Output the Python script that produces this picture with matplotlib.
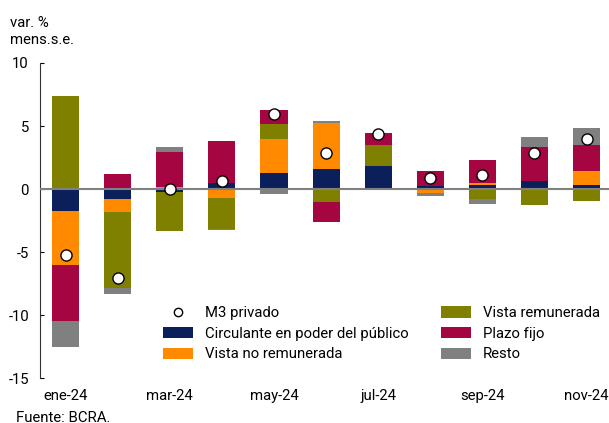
import numpy as np
import matplotlib
matplotlib.use('Agg')
import matplotlib.pyplot as plt
import matplotlib.patches as patches
import matplotlib.lines as lines

plt.rcParams['font.family'] = ['Roboto', 'DejaVu Sans']

months = ['ene-24', 'feb-24', 'mar-24', 'abr-24', 'may-24', 'jun-24',
          'jul-24', 'ago-24', 'sep-24', 'oct-24', 'nov-24']

circulante = [-1.75, -0.80, -0.20, 0.48, 1.27, 1.59, 1.83, 0.24, 0.32, 0.63, 0.32]
vista_no_rem = [-4.30, -1.03, 0.15, -0.73, 2.70, 3.65, 0.00, -0.30, 0.16, -0.05, 1.11]
vista_rem = [7.40, -6.03, -3.10, -2.45, 1.19, -1.03, 1.66, -0.05, -0.79, -1.22, -0.95]
plazo_fijo = [-4.45, 1.19, 2.80, 3.33, 1.11, -1.56, 0.95, 1.19, 1.82, 2.70, 2.06]
resto = [-2.00, -0.45, 0.35, -0.10, -0.37, 0.16, -0.08, -0.20, -0.40, 0.80, 1.35]
m3_privado = [-5.2, -7.1, 0.0, 0.63, 5.93, 2.83, 4.34, 0.87, 1.08, 2.83, 3.94]

series = [
    ('Circulante en poder del público', circulante, '#0B1F5B'),
    ('Vista no remunerada', vista_no_rem, '#FF8A00'),
    ('Vista remunerada', vista_rem, '#808000'),
    ('Plazo fijo', plazo_fijo, '#A50541'),
    ('Resto', resto, '#808080'),
]

fs = 10.7

fig = plt.figure(figsize=(6.09, 4.23), dpi=100)
ax = fig.add_axes([40/609, 45/423, 569/609, 315/423])

x = np.arange(len(months))
bar_width = 0.52
pos_base = np.zeros(len(months))
neg_base = np.zeros(len(months))
handles = {}
for name, vals, col in series:
    vals = np.array(vals)
    bottom = np.where(vals >= 0, pos_base, neg_base)
    ax.bar(x, vals, bar_width, bottom=bottom, color=col, edgecolor='none', zorder=2)
    handles[name] = patches.Patch(facecolor=col)
    pos_base = pos_base + np.where(vals >= 0, vals, 0)
    neg_base = neg_base + np.where(vals < 0, vals, 0)

ax.axhline(0, color='#808080', lw=1.5, zorder=3)
ax.plot(x, m3_privado, 'o', color='white', markeredgecolor='black',
        markersize=8, markeredgewidth=1.0, linestyle='None', zorder=4)

ax.set_xlim(-0.49, 10.43)
ax.set_ylim(-15, 10)
ax.set_yticks([-15, -10, -5, 0, 5, 10])
ax.set_yticklabels(['-15', '-10', '-5', '0', '5', '10'])
ax.set_xticks(x[::2])
ax.set_xticklabels(months[::2])
ax.tick_params(axis='x', length=0, pad=8, labelsize=fs)
ax.tick_params(axis='y', direction='in', length=3, pad=8, labelsize=fs)
for s in ['top', 'right', 'bottom']:
    ax.spines[s].set_visible(False)
ax.spines['left'].set_color('#333333')

m3_dot = lines.Line2D([0], [0], marker='o', color='white', markeredgecolor='black',
                      markersize=6, linestyle='None')
leg_handles = [m3_dot, handles['Circulante en poder del público'], handles['Vista no remunerada'],
               handles['Vista remunerada'], handles['Plazo fijo'], handles['Resto']]
leg_labels = ['M3 privado', 'Circulante en poder del público', 'Vista no remunerada',
              'Vista remunerada', 'Plazo fijo', 'Resto']
ax.legend(leg_handles, leg_labels, ncol=2, frameon=False, fontsize=fs,
          loc='lower left', bbox_to_anchor=(0.193, 0.01), handlelength=2.0,
          handleheight=0.8, columnspacing=2.2, labelspacing=0.45, handletextpad=0.8)

fig.text(10/609, 1 - 16/423, 'var. %\nmens.s.e.', fontsize=fs, va='top', ha='left',
         linespacing=1.3)
fig.text(16/609, 1 - 411/423, 'Fuente: BCRA.', fontsize=fs, va='top', ha='left')

fig.savefig('out.png', dpi=100)
